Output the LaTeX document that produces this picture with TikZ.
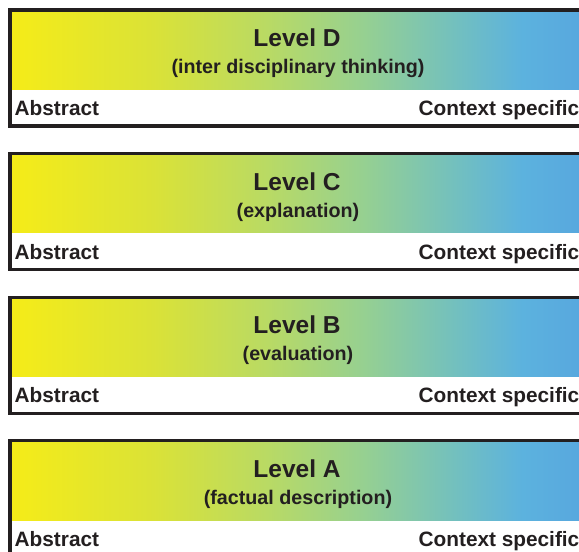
\documentclass[tikz,border=0pt]{standalone}
\usepackage{fontspec}
\setmainfont{Liberation Sans}
\definecolor{lvink}{RGB}{35,31,32}
\definecolor{fadeA}{RGB}{245,236,24}
\definecolor{fadeB}{RGB}{218,226,55}
\definecolor{fadeC}{RGB}{185,218,100}
\definecolor{fadeD}{RGB}{150,208,145}
\definecolor{fadeE}{RGB}{115,192,190}
\definecolor{fadeF}{RGB}{92,178,222}
\definecolor{fadeG}{RGB}{88,168,222}
\pgfdeclarehorizontalshading{levelfade}{100bp}{color(0bp)=(fadeA); color(25bp)=(fadeA);
  color(37.5bp)=(fadeB); color(47.5bp)=(fadeC); color(56bp)=(fadeD);
  color(64bp)=(fadeE); color(70bp)=(fadeF); color(75bp)=(fadeG); color(100bp)=(fadeG)}
\begin{document}
\begin{tikzpicture}[x=1pt,y=-1pt,
  lvrule/.style={line width=3.3pt,draw=lvink},
  lvtitle/.style={anchor=base,inner sep=0pt,text=lvink,font=\bfseries\fontsize{24.5}{28}\selectfont},
  lvsub/.style={anchor=base,inner sep=0pt,text=lvink,font=\bfseries\fontsize{19.7}{23}\selectfont},
  lvside/.style={inner sep=0pt,text=lvink,font=\bfseries\fontsize{20.8}{24}\selectfont}]
  \useasboundingbox (0,0) rectangle (579,552);
  \clip (0,0) rectangle (579,552);
  % one panel per level, top to bottom
  \foreach \lvl/\what/\t in {D/inter disciplinary thinking/10,C/explanation/153.6,B/evaluation/297.2,A/factual description/440.8} {
    % colour bar
    \shade[shading=levelfade] (11.7,\t+1.7) rectangle (579,\t+79.3);
    % frame: top, left and bottom
    \draw[lvrule] (579,\t) -| (10,\t+116) -- (579,\t+116);
    % texts
    \node[lvtitle] (title\lvl) at (297,\t+36.5) {Level \lvl};
    \node[lvsub] (sub\lvl) at (298,\t+63.5) {(\what)};
    \node[lvside,anchor=base west] (abs\lvl) at (14.5,\t+105.5) {Abstract};
    \node[lvside,anchor=base east] (ctx\lvl) at (579.5,\t+105.5) {Context specific};
  }
\end{tikzpicture}
\end{document}
